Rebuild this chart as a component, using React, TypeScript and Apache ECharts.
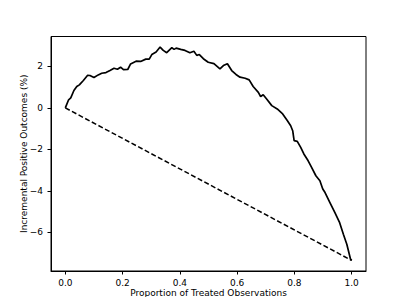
import React, { useEffect, useRef } from "react";
import * as echarts from "echarts";

const curveX = [0, 0.0115, 0.019, 0.03, 0.04, 0.049, 0.063, 0.078, 0.086, 0.1, 0.115, 0.127, 0.142, 0.156, 0.17, 0.182, 0.193, 0.203, 0.218, 0.228, 0.247, 0.263, 0.281, 0.293, 0.302, 0.317, 0.331, 0.342, 0.354, 0.372, 0.38, 0.387, 0.403, 0.418, 0.435, 0.449, 0.459, 0.468, 0.482, 0.499, 0.519, 0.54, 0.552, 0.566, 0.581, 0.596, 0.61, 0.628, 0.642, 0.656, 0.674, 0.682, 0.691, 0.703, 0.721, 0.74, 0.759, 0.775, 0.787, 0.794, 0.799, 0.81, 0.822, 0.833, 0.848, 0.86, 0.875, 0.889, 0.899, 0.907, 0.924, 0.941, 0.958, 0.971, 0.983, 0.996, 1.0];
const curveY = [0, 0.39, 0.48, 0.84, 1.03, 1.11, 1.32, 1.57, 1.56, 1.46, 1.59, 1.67, 1.7, 1.8, 1.91, 1.86, 1.96, 1.84, 1.85, 2.12, 2.25, 2.24, 2.35, 2.35, 2.57, 2.69, 2.93, 2.77, 2.66, 2.9, 2.82, 2.88, 2.82, 2.77, 2.66, 2.73, 2.53, 2.57, 2.37, 2.2, 2.13, 1.88, 2.04, 2.13, 1.8, 1.61, 1.48, 1.43, 1.35, 1.03, 0.75, 0.55, 0.63, 0.43, 0.11, -0.05, -0.29, -0.61, -0.86, -1.1, -1.58, -1.61, -1.9, -2.22, -2.55, -2.87, -3.27, -3.51, -3.91, -4.08, -4.56, -5.04, -5.53, -6.09, -6.57, -7.29, -7.35];
const baselineX = [0, 1];
const baselineY = [0, -7.35];
const xTicks = [0, 0.2, 0.4, 0.6, 0.8, 1.0];
const yTicks = [-6, -4, -2, 0, 2];

const FONT = "DejaVu Sans";

export default function App() {
  const ref = useRef<HTMLDivElement>(null);
  useEffect(() => {
    if (!ref.current) return;
    const chart = echarts.init(ref.current, null, { renderer: "svg" });
    chart.setOption({
      animation: false,
      backgroundColor: "#ffffff",
      grid: {
        left: 51,
        right: 41,
        top: 36.5,
        bottom: 34,
        show: true,
        borderColor: "#000",
        borderWidth: 1,
        backgroundColor: "transparent",
      },
      xAxis: {
        type: "value",
        min: -0.05,
        max: 1.05,
        name: "Proportion of Treated Observations",
        nameLocation: "middle",
        nameGap: 17,
        nameMoveOverlap: false,
        nameTextStyle: { fontFamily: FONT, fontSize: 9, color: "#000" },
        axisLine: { show: true, onZero: false, lineStyle: { color: "#000", width: 1 } },
        axisTick: { show: true, inside: false, length: 3.5, customValues: xTicks, lineStyle: { color: "#000" } },
        axisLabel: {
          customValues: xTicks,
          margin: 7,
          fontFamily: FONT,
          fontSize: 9,
          color: "#000",
          formatter: (v: number) => v.toFixed(1),
        },
        splitLine: { show: false },
      },
      yAxis: {
        type: "value",
        min: -7.86,
        max: 3.44,
        name: "Incremental Positive Outcomes (%)",
        nameLocation: "middle",
        nameGap: 23,
        nameMoveOverlap: false,
        nameTextStyle: { fontFamily: FONT, fontSize: 9, color: "#000" },
        axisLine: { show: true, onZero: false, lineStyle: { color: "#000", width: 1 } },
        axisTick: { show: true, inside: false, length: 3.5, customValues: yTicks, lineStyle: { color: "#000" } },
        axisLabel: {
          customValues: yTicks,
          margin: 8,
          fontFamily: FONT,
          fontSize: 9,
          color: "#000",
          formatter: (v: number) => (v < 0 ? "\u2212" + Math.abs(v) : String(v)),
        },
        splitLine: { show: false },
      },
      series: [
        {
          type: "line",
          data: curveX.map((x, i) => [x, curveY[i]]),
          showSymbol: false,
          lineStyle: { color: "#000", width: 1.7 },
        },
        {
          type: "line",
          data: baselineX.map((x, i) => [x, baselineY[i]]),
          showSymbol: false,
          lineStyle: { color: "#000", width: 1.5, type: [5, 2.5] },
        },
      ],
    });
    return () => chart.dispose();
  }, []);
  return <div ref={ref} style={{ width: 407, height: 305, margin: -8 }} />;
}
